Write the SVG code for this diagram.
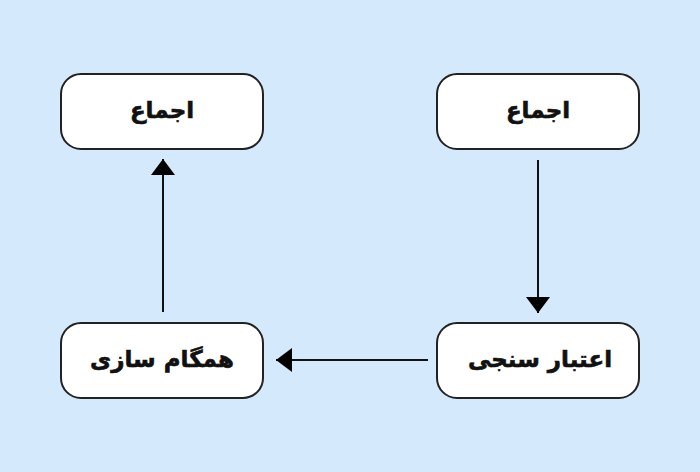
<svg xmlns="http://www.w3.org/2000/svg" width="700" height="472" viewBox="0 0 700 472">
<style>
.node{fill:#ffffff;stroke:#222222;stroke-width:2}
.lbl{font-family:"DejaVu Sans","Noto Sans",sans-serif;font-weight:bold;font-size:23px;fill:#111111;stroke:#111111;stroke-width:0.6;text-anchor:middle;dominant-baseline:central}
.edge{stroke:#111111;stroke-width:2;fill:none}
</style>
<defs>
<marker id="ah" viewBox="0 0 16 24" refX="16" refY="12" markerWidth="16" markerHeight="24" markerUnits="userSpaceOnUse" orient="auto">
<path d="M0,0 L16,12 L0,24 Z" fill="#000000"/>
</marker>
</defs>
<rect x="0" y="0" width="700" height="472" fill="#d4eafc"/>
<g id="connectors">
<line class="edge" x1="538" y1="160" x2="538" y2="313" marker-end="url(#ah)"/>
<line class="edge" x1="428" y1="360" x2="276" y2="360" marker-end="url(#ah)"/>
<line class="edge" x1="163" y1="312" x2="163" y2="159" marker-end="url(#ah)"/>
</g>
<g id="node-top-left">
<rect class="node" x="61" y="74" width="202" height="75" rx="20"/>
<text class="lbl" x="162" y="110">اجماع</text>
</g>
<g id="node-top-right">
<rect class="node" x="437" y="74" width="202" height="75" rx="20"/>
<text class="lbl" x="538" y="110">اجماع</text>
</g>
<g id="node-bottom-right">
<rect class="node" x="437" y="323" width="202" height="75" rx="20"/>
<text class="lbl" x="540" y="359">اعتبار سنجی</text>
</g>
<g id="node-bottom-left">
<rect class="node" x="61" y="323" width="202" height="75" rx="20"/>
<text class="lbl" x="162" y="359">همگام سازی</text>
</g>
</svg>
